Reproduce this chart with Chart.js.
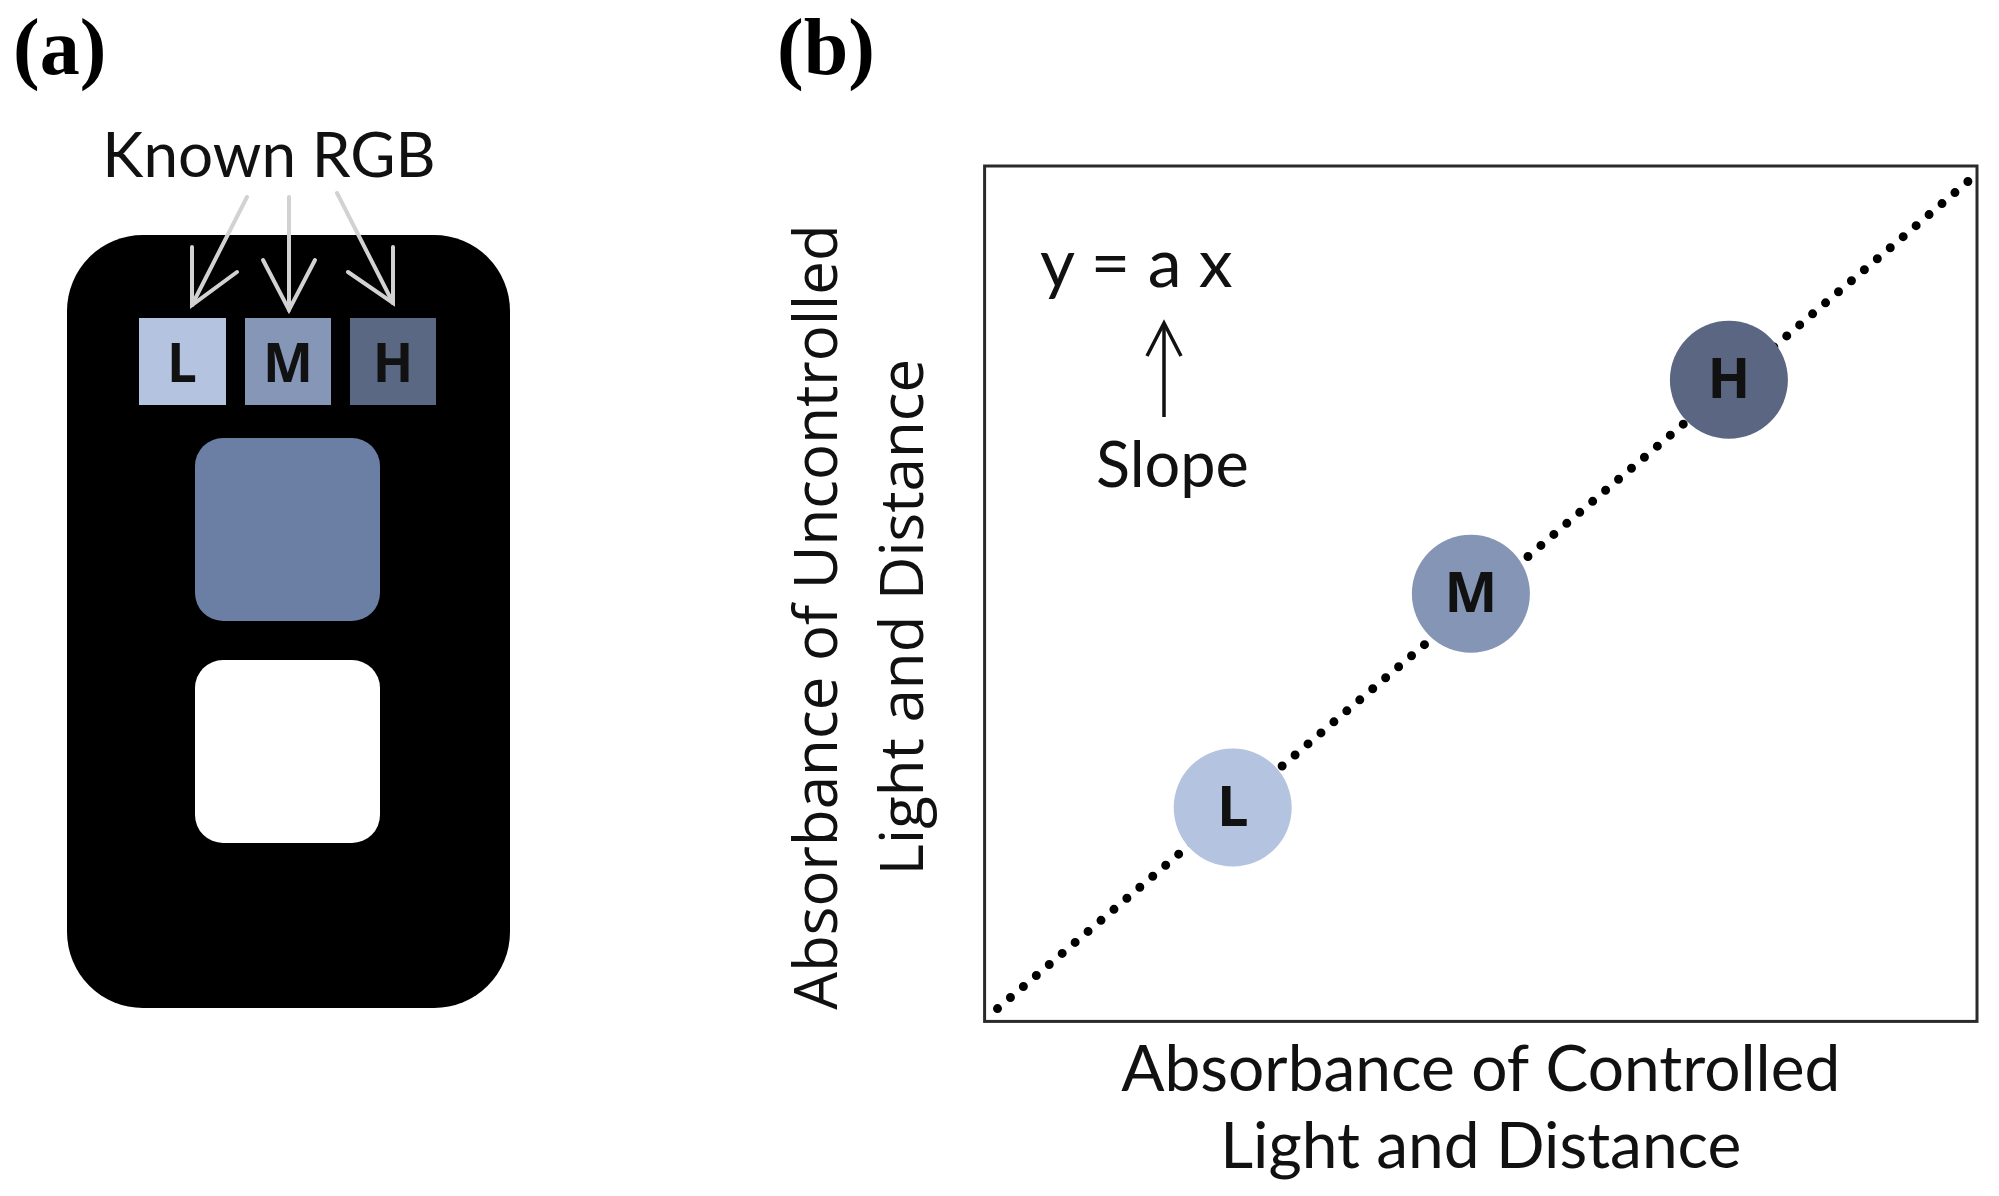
<!DOCTYPE html>
<html>
<head>
<meta charset="utf-8">
<script src="https://cdn.jsdelivr.net/npm/chart.js@4.4.1/dist/chart.umd.min.js"></script>
<style>
body { margin: 0; background: #fff; }
#wrap { position: relative; width: 1999px; height: 1196px; overflow: hidden; }
#wrap canvas, #wrap svg { position: absolute; left: 0; top: 0; }
</style>
</head>
<body>
<div id="wrap">
<canvas id="absorbance chart" width="1999" height="1196"></canvas>
<svg width="1999" height="1196" viewBox="0 0 1999 1196">
  <!-- panel labels -->
  <text x="13" y="74" font-family="Liberation Serif" font-weight="bold" font-size="80">(a)</text>
  <text x="777" y="74" font-family="Liberation Serif" font-weight="bold" font-size="80">(b)</text>

  <!-- panel (a): phone sketch -->
  <text x="269" y="177" text-anchor="middle" font-family="Lato" font-size="62" fill="#111">Known RGB</text>
  <rect x="67" y="235" width="443" height="773" rx="76" fill="#000"/>
  <g stroke="#d2d2d2" stroke-width="4" fill="none" stroke-linecap="round">
    <line x1="247" y1="197" x2="192" y2="305"/>
    <polyline points="192,247 192,305 237,272"/>
    <line x1="289" y1="197" x2="289" y2="310"/>
    <polyline points="263,260 289,310 315,260"/>
    <line x1="337" y1="193" x2="393" y2="303"/>
    <polyline points="348,272 393,303 393,247"/>
  </g>
  <rect x="139" y="318" width="87" height="87" fill="#b4c3e0"/>
  <rect x="245" y="318" width="86" height="87" fill="#8596b6"/>
  <rect x="350" y="318" width="86" height="87" fill="#5b6883"/>
  <g font-family="Open Sans" font-weight="bold" font-size="53" text-anchor="middle" fill="#111">
    <text x="182" y="382">L</text>
    <text x="288" y="382">M</text>
    <text x="393" y="382">H</text>
  </g>
  <rect x="195" y="438" width="185" height="183" rx="28" fill="#6b7fa5"/>
  <rect x="195" y="660" width="185" height="183" rx="28" fill="#fff"/>

  <!-- panel (b): slope note -->
  <text x="1040" y="287" font-family="Lato" font-size="68" fill="#111">y = a x</text>
  <g stroke="#111" stroke-width="3.5" fill="none">
    <line x1="1164" y1="417" x2="1164" y2="324"/>
    <polyline points="1147,356 1164,323 1181,356"/>
  </g>
  <text x="1096" y="487" font-family="Lato" font-size="63" fill="#111">Slope</text>
</svg>
</div>
<script>
// readings for the three reference patches (arbitrary absorbance units)
const pointLabels = ['L', 'M', 'H'];
const controlled = [25, 49, 75];
const uncontrolled = [25, 50, 75];
// ends of the y = a x line
const fitX = [1.3, 99.4];
const fitY = [1.5, 98.5];

const pointColors = ['#b3c3e0', '#8595b5', '#5b6782'];

const boxPlugin = {
    id: 'box',
    afterDatasetsDraw(chart) {
        const {ctx, chartArea: a} = chart;
        ctx.save();
        ctx.strokeStyle = '#2a2a2a';
        ctx.lineWidth = 3;
        ctx.strokeRect(a.left, a.top, a.right - a.left, a.bottom - a.top);

        // letters inside the circles
        const meta = chart.getDatasetMeta(0);
        ctx.fillStyle = '#111';
        ctx.font = 'bold 56px "Open Sans"';
        ctx.textAlign = 'center';
        ctx.textBaseline = 'middle';
        meta.data.forEach((pt, i) => {
            ctx.fillText(pointLabels[i], pt.x, pt.y + 2);
        });
        ctx.restore();
    }
};

const ctx = document.getElementById('absorbance chart').getContext('2d');
const myChart = new Chart(ctx, {
    type: 'scatter',
    data: {
        datasets: [{
            label: 'Patches',
            data: controlled.map((x, i) => ({x: x, y: uncontrolled[i]})),
            backgroundColor: pointColors,
            borderWidth: 0,
            pointRadius: 59,
            pointHoverRadius: 59
        }, {
            type: 'line',
            label: 'y = a x',
            data: fitX.map((x, i) => ({x: x, y: fitY[i]})),
            borderColor: '#000',
            borderWidth: 9,
            borderDash: [0, 17],
            borderCapStyle: 'round',
            pointRadius: 0,
            fill: false
        }]
    },
    options: {
        responsive: false,
        animation: false,
        layout: {
            autoPadding: false,
            padding: {left: 777, right: 22, top: 166, bottom: 10}
        },
        plugins: {
            legend: {display: false},
            tooltip: {enabled: false}
        },
        scales: {
            x: {
                type: 'linear',
                min: 0,
                max: 100,
                ticks: {display: false},
                grid: {display: false, drawTicks: false},
                border: {display: false},
                title: {
                    display: true,
                    text: ['Absorbance of Controlled', 'Light and Distance'],
                    color: '#111',
                    font: {family: 'Lato', size: 64, lineHeight: 1.2},
                    padding: {top: 11, bottom: 0}
                }
            },
            y: {
                type: 'linear',
                min: 0,
                max: 100,
                ticks: {display: false},
                grid: {display: false, drawTicks: false},
                border: {display: false},
                title: {
                    display: true,
                    // trailing spaces nudge the centred title down a little
                    text: ['Absorbance of Uncontrolled   ', 'Light and Distance   '],
                    color: '#111',
                    font: {family: 'Open Sans', size: 60, lineHeight: 1.43},
                    padding: {top: 0, bottom: 36}
                }
            }
        }
    },
    plugins: [boxPlugin]
});
</script>
</body>
</html>
